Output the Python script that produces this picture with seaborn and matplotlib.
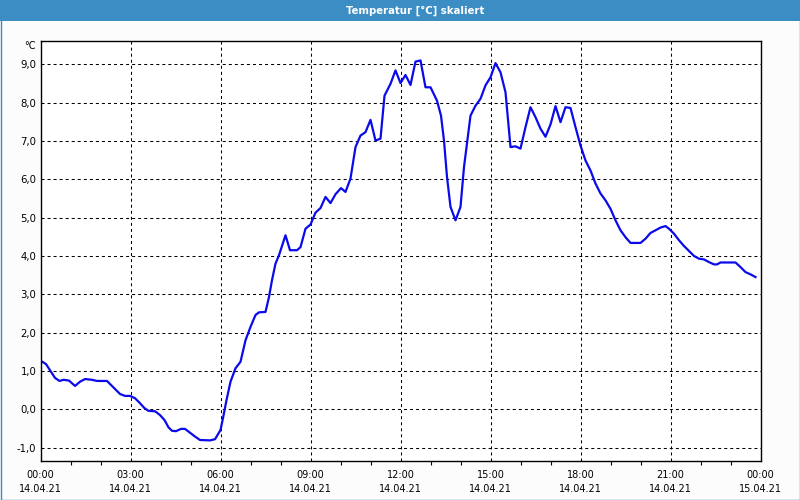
import numpy as np
import pandas as pd
import matplotlib
matplotlib.use("Agg")
import matplotlib.pyplot as plt
from matplotlib.patches import Rectangle
from matplotlib.ticker import FuncFormatter, MultipleLocator
import seaborn as sns

# ---- data (minutes since 14.04.21 00:00, temperature in °C) ----
minutes = [0, 11, 19, 29, 38, 46, 57, 69, 79, 89, 103, 113, 133, 146, 159, 169, 179, 189,
           199, 208, 216, 229, 239, 248, 256, 263, 271, 281, 289, 299, 309, 319, 339, 349,
           356, 360, 365, 372, 380, 390, 400, 410, 420, 430, 437, 450, 457, 463, 470, 477,
           490, 499, 513, 520, 530, 540, 550, 560, 570, 580, 590, 601, 610, 620, 630, 640,
           650, 660, 670, 680, 688, 700, 710, 720, 730, 740, 750, 760, 770, 780, 793, 801,
           807, 813, 820, 830, 840, 847, 860, 870, 880, 890, 900, 910, 920, 930, 940, 950,
           960, 970, 980, 990, 1000, 1010, 1020, 1030, 1040, 1050, 1060, 1070, 1080, 1090,
           1100, 1110, 1120, 1130, 1140, 1150, 1160, 1170, 1180, 1200, 1210, 1220, 1230,
           1240, 1250, 1257, 1267, 1277, 1287, 1297, 1307, 1317, 1327, 1337, 1347, 1353,
           1360, 1390, 1400, 1410, 1420, 1430]
temperature = [1.27, 1.18, 1.02, 0.82, 0.74, 0.77, 0.75, 0.61, 0.72, 0.79, 0.77, 0.74, 0.74,
               0.57, 0.40, 0.35, 0.35, 0.29, 0.16, 0.03, -0.04, -0.05, -0.15, -0.28, -0.47,
               -0.56, -0.57, -0.51, -0.51, -0.61, -0.71, -0.80, -0.81, -0.78, -0.63, -0.54,
               -0.23, 0.24, 0.72, 1.07, 1.24, 1.80, 2.15, 2.46, 2.53, 2.54, 2.93, 3.37, 3.80,
               4.02, 4.54, 4.15, 4.15, 4.23, 4.71, 4.82, 5.13, 5.25, 5.54, 5.38, 5.61, 5.77,
               5.67, 6.02, 6.84, 7.14, 7.23, 7.55, 7.01, 7.06, 8.18, 8.49, 8.84, 8.51, 8.72,
               8.46, 9.07, 9.10, 8.40, 8.40, 8.05, 7.66, 7.01, 6.06, 5.28, 4.93, 5.28, 6.32,
               7.66, 7.92, 8.10, 8.45, 8.66, 9.03, 8.79, 8.27, 6.84, 6.86, 6.80, 7.36, 7.88,
               7.62, 7.32, 7.11, 7.43, 7.91, 7.49, 7.88, 7.86, 7.36, 6.88, 6.49, 6.23, 5.89,
               5.63, 5.45, 5.23, 4.93, 4.67, 4.49, 4.34, 4.34, 4.45, 4.60, 4.67, 4.74, 4.78,
               4.71, 4.58, 4.41, 4.26, 4.13, 4.00, 3.93, 3.91, 3.84, 3.78, 3.78, 3.83, 3.83,
               3.71, 3.58, 3.52, 3.45]

tick_hours = [0, 3, 6, 9, 12, 15, 18, 21, 24]
tick_times = ["00:00", "03:00", "06:00", "09:00", "12:00", "15:00", "18:00", "21:00", "00:00"]
tick_dates = ["14.04.21"] * 8 + ["15.04.21"]
y_ticks = [-1, 0, 1, 2, 3, 4, 5, 6, 7, 8, 9]

title = "Temperatur [°C] skaliert"
unit = "°C"

df = pd.DataFrame({"hour": np.array(minutes) / 60.0, "temp": temperature})

plt.rcParams["font.family"] = ["DejaVu Sans"]

W, H = 800, 500
fig = plt.figure(figsize=(W / 100, H / 100), dpi=100, facecolor="#fbfcfb")

# title bar
bar_h = 20.5
fig.patches.append(Rectangle((0, 1 - bar_h / H), 1, bar_h / H, transform=fig.transFigure,
                             facecolor="#3c8dc4", edgecolor="none", zorder=0))
# window border
fig.patches.append(Rectangle((0.5 / W, 0.5 / H), 1 - 1.0 / W, 1 - 1.0 / H, transform=fig.transFigure,
                             facecolor="none", edgecolor="#3c8dc4", linewidth=1.0, zorder=5))
fig.text(415 / W, 1 - 10.5 / H, title, color="white", fontsize=7.3, fontweight="bold",
         ha="center", va="center")

left, right, top, bottom = 40.5, 760.5, 40.5, 460.7
ax = fig.add_axes([left / W, 1 - bottom / H, (right - left) / W, (bottom - top) / H])
ax.set_facecolor("white")

sns.lineplot(data=df, x="hour", y="temp", ax=ax, color="#0a0aeb", linewidth=1.6)

ax.set_xlim(0, 24)
ax.set_ylim(-1.34, 9.62)

ax.set_xticks(tick_hours)
ax.set_xticklabels([f"{t}\n{d}" for t, d in zip(tick_times, tick_dates)],
                   fontsize=7, linespacing=1.45)
ax.xaxis.set_minor_locator(MultipleLocator(1))
ax.set_yticks(y_ticks)
ax.yaxis.set_major_formatter(FuncFormatter(lambda v, p: f"{v:.1f}".replace(".", ",")))
ax.tick_params(axis="y", length=0, pad=3, labelsize=7.3)
ax.tick_params(axis="x", which="major", length=0, pad=7)
ax.tick_params(axis="x", which="minor", length=3, width=0.8, direction="out")

ax.grid(True, which="major", color="black", linestyle=(0, (2.9, 2.9)), linewidth=0.75)
ax.set_axisbelow(True)
for s in ax.spines.values():
    s.set_color("black")
    s.set_linewidth(1.0)
    s.set_zorder(4)

ax.set_xlabel("")
ax.set_ylabel("")

fig.text(36 / W, 1 - 46 / H, unit, fontsize=7, ha="right", va="center")

fig.savefig("out.png", dpi=100, facecolor=fig.get_facecolor())
